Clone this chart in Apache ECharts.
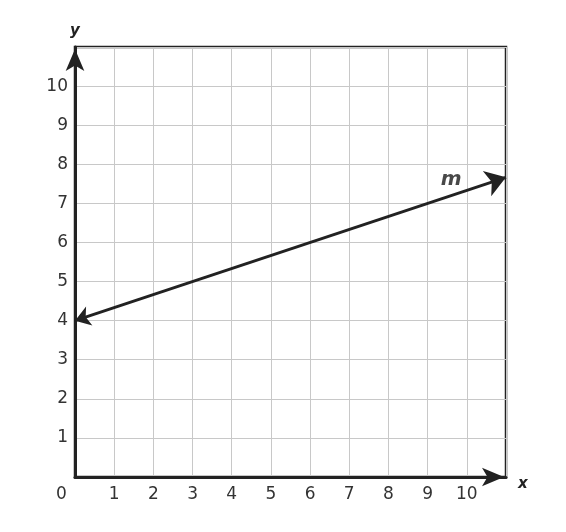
<!DOCTYPE html>
<html><head><meta charset="utf-8">
<script src="https://cdn.jsdelivr.net/npm/echarts@6/dist/echarts.min.js"></script>
<style>html,body{margin:0;padding:0;background:#fff}#c{width:566px;height:532px}</style>
</head><body><div id="c"></div>
<script>
const xTicks = [1,2,3,4,5,6,7,8,9,10];
const yTicks = [1,2,3,4,5,6,7,8,9,10];
const lineM = [[0,4],[11,23/3]];
const lineLabel = {name:'m', pos:[9.6,7.6]};
const axisNames = {x:'x', y:'y'};
const FONT = '"DejaVu Sans", Verdana, sans-serif';
const chart = echarts.init(document.getElementById('c'));
chart.setOption({
  animation:false,
  grid:{left:75,top:47,right:60,bottom:55,show:true,borderColor:'#222',borderWidth:2.5},
  xAxis:{type:'value',min:0,max:11,interval:1,
    name:axisNames.x,nameLocation:'end',nameGap:12,
    nameTextStyle:{fontFamily:FONT,fontSize:15,fontStyle:'italic',fontWeight:'bold',color:'#222',verticalAlign:'top'},
    axisLine:{show:true,symbol:['none','arrow'],symbolSize:[14,22],symbolOffset:[0,-2],lineStyle:{color:'#222',width:3}},
    axisTick:{show:false},
    splitLine:{show:true,lineStyle:{color:'#c8c8c8',width:1}},
    axisLabel:{fontFamily:FONT,fontSize:17,color:'#333',margin:9,
      formatter:v=>xTicks.includes(v)?String(v):''}
  },
  yAxis:{type:'value',min:0,max:11,interval:1,
    name:axisNames.y,nameLocation:'end',nameGap:8,
    nameTextStyle:{fontFamily:FONT,fontSize:15,fontStyle:'italic',fontWeight:'bold',color:'#222',align:'center'},
    axisLine:{show:true,symbol:['none','arrow'],symbolSize:[14,22],symbolOffset:[0,-2],lineStyle:{color:'#222',width:3}},
    axisTick:{show:false},
    splitLine:{show:true,lineStyle:{color:'#c8c8c8',width:1}},
    axisLabel:{fontFamily:FONT,fontSize:17,color:'#333',margin:7,
      formatter:v=>yTicks.includes(v)?String(v):''}
  },
  graphic:[{type:'text',left:56,top:486,style:{text:'0',font:'17px '+FONT,fill:'#333'}}],
  series:[
    {type:'lines',coordinateSystem:'cartesian2d',polyline:false,
      symbol:['arrow','arrow'],symbolSize:[15,20],
      lineStyle:{color:'#222',width:3,opacity:1},
      data:[{coords:lineM}],z:5},
    {type:'scatter',symbolSize:0,data:[lineLabel.pos],silent:true,
      label:{show:true,position:'inside',formatter:lineLabel.name,fontFamily:FONT,fontSize:20,fontStyle:'italic',fontWeight:'bold',color:'#1a1a1a'}}
  ]
});
</script></body></html>
